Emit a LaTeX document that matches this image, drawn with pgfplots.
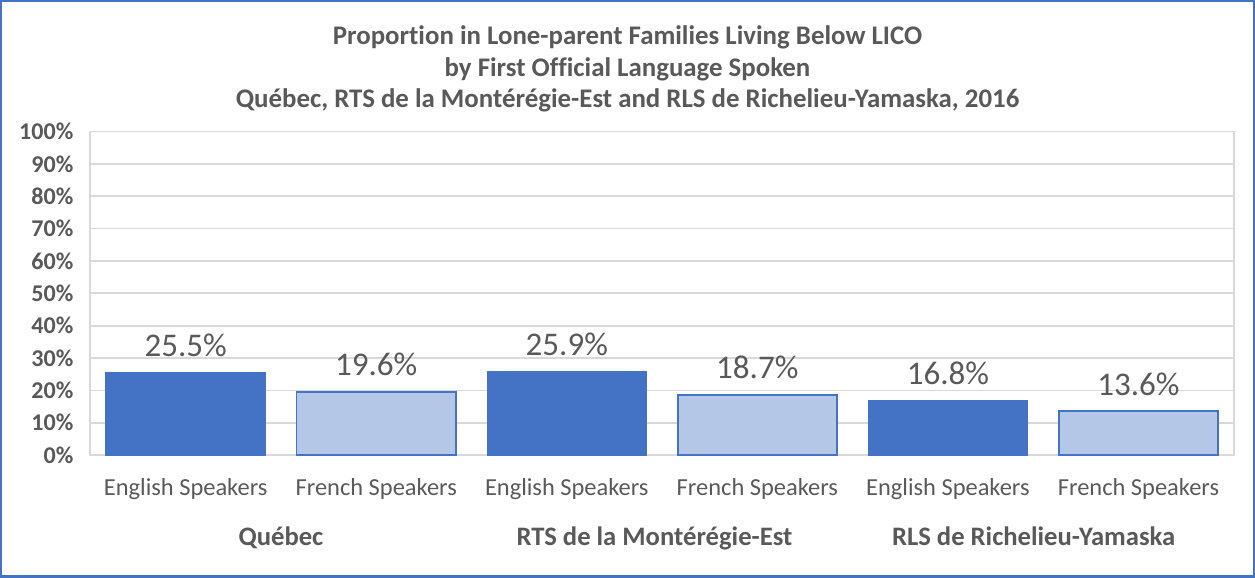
\documentclass[border=0pt]{standalone}
\usepackage{fontspec}
\setmainfont{Carlito}[Ligatures=NoCommon]
\usepackage{pgfplots}
\pgfplotsset{compat=1.18}
\definecolor{dblue}{HTML}{4472C4}
\definecolor{lblue}{HTML}{B4C7E7}
\definecolor{txt}{HTML}{595959}
\definecolor{gridc}{HTML}{D9D9D9}

\begin{document}
\begin{tikzpicture}
\begin{axis}[
    scale only axis,
    width=570.5pt,
    height=161.5pt,
    xmin=-0.5, xmax=5.5,
    ymin=0, ymax=100,
    ybar,
    bar width=79.5pt,
    xtick={0,...,5},
    xticklabels={English Speakers,French Speakers,English Speakers,French Speakers,English Speakers,French Speakers},
    ytick={0,10,...,100},
    yticklabels={0\%,10\%,20\%,30\%,40\%,50\%,60\%,70\%,80\%,90\%,100\%},
    major tick length=0pt,
    ymajorgrids,
    grid style={gridc, line width=0.9pt},
    axis line style={gridc, line width=0.9pt},
    xticklabel style={font=\fontsize{12.2}{14}\selectfont, text=txt, anchor=base, yshift=-20pt},
    yticklabel style={font=\bfseries\fontsize{12}{14}\selectfont, text=txt, xshift=-5pt},
    /pgf/number format/assume math mode=true,
    nodes near coords={\pgfmathprintnumber[fixed,precision=1,fixed zerofill]{\pgfplotspointmeta}\%},
    nodes near coords style={font=\fontsize{16.5}{19}\selectfont, text=txt, anchor=base, yshift=8pt},
    clip=false,
]
\addplot[fill=dblue, draw=dblue, line width=0.6pt, bar shift=0pt] coordinates {(0,25.5) (2,25.9) (4,16.8)};
\addplot[fill=lblue, draw=dblue, line width=0.9pt, bar shift=0pt] coordinates {(1,19.6) (3,18.7) (5,13.6)};
\node[font=\bfseries\fontsize{13.3}{16}\selectfont, text=txt, anchor=base] at (axis cs:0.5,0) [yshift=-45pt] {Québec};
\node[font=\bfseries\fontsize{13.3}{16}\selectfont, text=txt, anchor=base] at (axis cs:2.46,0) [yshift=-45pt] {RTS de la Montérégie-Est};
\node[font=\bfseries\fontsize{13.3}{16}\selectfont, text=txt, anchor=base] at (axis cs:4.45,0) [yshift=-45pt] {RLS de Richelieu-Yamaska};
\end{axis}
\node[font=\bfseries\fontsize{13.4}{16}\selectfont, text=txt, anchor=base] at (268pt,204.75pt) {Propor\kern0pt tion in Lone-parent Families Living Below LICO};
\node[font=\bfseries\fontsize{13.4}{16}\selectfont, text=txt, anchor=base] at (268pt,189pt) {by First Official Language Spoken};
\node[font=\bfseries\fontsize{13.4}{16}\selectfont, text=txt, anchor=base] at (268pt,173.25pt) {Québec, RTS de la Montérégie-Est and RLS de Richelieu-Yamaska, 2016};
\draw[dblue, line width=1.2pt] (-44.5pt,-60.5pt) rectangle (580.5pt,226.5pt);
\end{tikzpicture}
\end{document}
